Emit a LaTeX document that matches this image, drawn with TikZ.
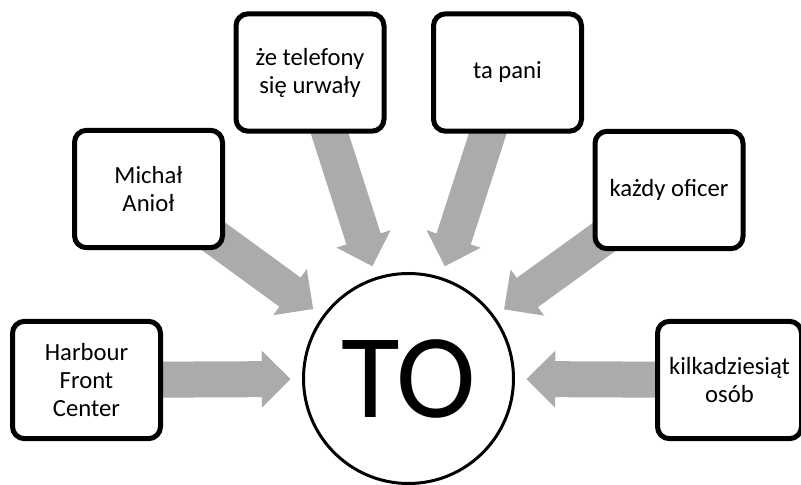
\documentclass[tikz,border=0pt]{standalone}
\usepackage{fontspec}
\setmainfont{Carlito}
\usetikzlibrary{arrows.meta,calc,backgrounds}
\definecolor{arrgray}{RGB}{171,171,171}
\tikzstyle{box}=[rectangle,draw,rounded corners=9pt,fill=white,align=center,line width=3.75pt,inner sep=2pt,minimum width=111pt,minimum height=88pt,font=\fontsize{18.5}{21}\selectfont]
\tikzstyle{hub}=[circle,draw,fill=white,line width=2.25pt,minimum size=157.5pt,inner sep=0pt,font=\fontsize{90}{90}\selectfont]
\tikzstyle{fat}=[arrgray,line width=27pt,-{Triangle[length=21.5pt,width=42.5pt,line width=1pt]}]

\begin{document}
\begin{tikzpicture}[x=0.75pt,y=-0.75pt]
\useasboundingbox (0,0) rectangle (801,485);
\node[hub] (TO) at (408.5,378.5) {TO};
\node[box] (harbour) at (86.5,380) {Harbour\\Front\\Center};
\node[box] (michal) at (148.5,189) {Michał\\Anioł};
\node[box] (telefony) at (310,72.5) {że telefony\\się urwały};
\node[box] (pani) at (507.5,72.5) {ta pani};
\node[box] (oficer) at (669,190) {każdy oficer};
\node[box,minimum width=108pt] (osob) at (729.5,380) {kilkadziesiąt\\osób};
\begin{scope}[on background layer]
\draw[fat] (harbour.center) -- ($(TO.center)!88.5pt!(harbour.center)$);
\draw[fat] (michal.center) -- ($(TO.center)!88.5pt!(michal.center)$);
\draw[fat] (telefony.center) -- ($(TO.center)!88.5pt!(telefony.center)$);
\draw[fat] (pani.center) -- ($(TO.center)!88.5pt!(pani.center)$);
\draw[fat] (oficer.center) -- ($(TO.center)!88.5pt!(oficer.center)$);
\draw[fat] (osob.center) -- ($(TO.center)!88.5pt!(osob.center)$);
\end{scope}
\end{tikzpicture}
\end{document}
